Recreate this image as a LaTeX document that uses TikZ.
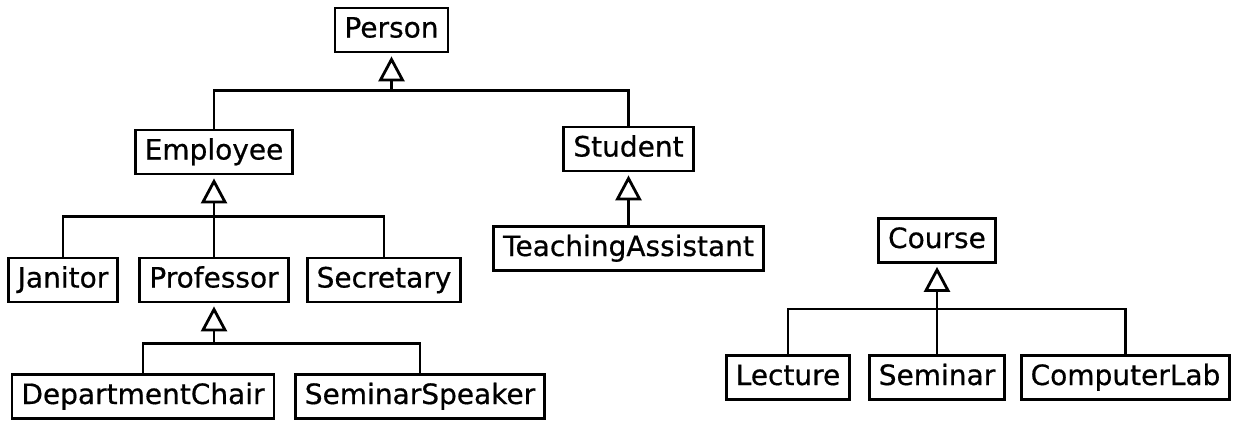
\documentclass[tikz,border=0pt]{standalone}
\usepackage{fontspec}
\setmainfont{DejaVu Sans}[FakeBold=0.6]
\usetikzlibrary{positioning,arrows.meta}

\begin{document}
\begin{tikzpicture}[x=1pt,y=-1pt,line width=2.8pt,
		cls/.style={draw,font=\fontsize{28}{34}\selectfont,inner xsep=9.5pt,inner ysep=8.5pt,text height=21pt,text depth=6pt},
		isa/.style={-{Triangle[open,length=25pt,width=26pt]},shorten >=3pt}]
		\useasboundingbox (0,0) rectangle (1234,421);
		\node[cls] (person) at (391.5,30) {Person};
		\node[cls] (employee) at (214,152) {Employee};
		\node[cls] (student) at (628.5,149) {Student};
		\node[cls] (assistant) at (628.5,248.5) {TeachingAssistant};
		\node[cls] (janitor) at (63,280) {Janitor};
		\node[cls] (professor) at (214,280) {Professor};
		\node[cls] (secretary) at (384,280) {Secretary};
		\node[cls] (chair) at (143,396.5) {DepartmentChair};
		\node[cls] (speaker) at (420,396.5) {SeminarSpeaker};
		\node[cls] (course) at (937,240.5) {Course};
		\node[cls] (lecture) at (788,377.5) {Lecture};
		\node[cls] (seminar) at (937,377.5) {Seminar};
		\node[cls] (lab) at (1125.5,377.5) {ComputerLab};
		\coordinate[below=37pt of person] (personbar);
		\coordinate[below=41pt of employee] (employeebar);
		\coordinate[below=40pt of professor] (professorbar);
		\coordinate[below=45pt of course] (coursebar);
		\draw[isa] (personbar) -- (person);
		\draw (employee.north) |- (personbar);
		\draw (student.north) |- (personbar);
		\draw[isa] (employeebar) -- (employee);
		\draw (janitor.north) |- (employeebar);
		\draw (professor.north) |- (employeebar);
		\draw (secretary.north) |- (employeebar);
		\draw[isa] (assistant) -- (student);
		\draw[isa] (professorbar) -- (professor);
		\draw (chair.north) |- (professorbar);
		\draw (speaker.north) |- (professorbar);
		\draw[isa] (coursebar) -- (course);
		\draw (lecture.north) |- (coursebar);
		\draw (seminar.north) |- (coursebar);
		\draw (lab.north) |- (coursebar);
\end{tikzpicture}
\end{document}
